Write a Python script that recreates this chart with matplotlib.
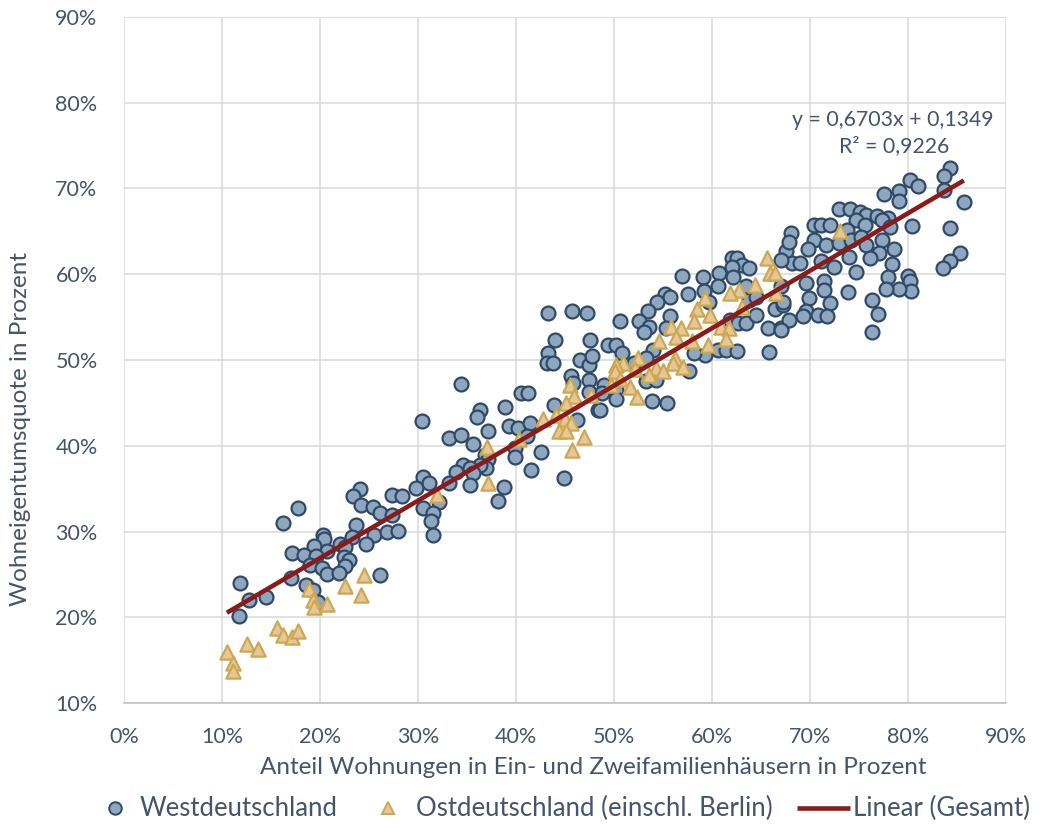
import matplotlib
matplotlib.use("Agg")
import matplotlib.pyplot as plt
from matplotlib.lines import Line2D
from matplotlib.ticker import FuncFormatter, MultipleLocator
import numpy as np

# ---- data (percent) ----
west_x = [24.1, 23.4, 27.3, 28.4, 24.2, 25.4, 17.8, 26.1, 27.3, 16.2, 23.7, 20.3, 20.4, 23.3, 25.5, 26.8, 28.0,
          19.4, 22.0, 24.7, 17.1, 18.4, 22.5, 20.7, 19.6, 22.4, 23.0, 19.0, 20.2, 22.5, 20.7, 21.9, 26.1, 17.0,
          11.8, 18.6, 19.3, 12.8, 14.5, 19.8, 11.7,
          44.0, 47.5, 43.3, 43.2, 43.8, 46.5, 47.4, 47.8, 45.6, 47.4, 45.8, 47.4, 34.4, 40.5, 41.2, 38.9, 36.3,
          36.0, 43.9, 48.4, 46.2, 30.4, 39.3, 40.2, 41.4, 37.1, 41.1, 33.2, 34.4, 35.6, 39.9, 42.5, 39.9, 36.8,
          37.1, 36.9, 36.3, 34.6, 33.9, 35.3, 35.6, 41.5, 44.9, 33.2, 30.5, 31.1, 29.8, 35.3, 38.8, 30.5, 32.1,
          31.5, 38.2, 31.3, 31.5, 43.3, 45.7,
          67.6, 68.2, 62.0, 62.6, 63.1, 63.8, 62.0, 60.7, 62.1, 59.1, 56.9, 60.6, 59.2, 57.5, 55.2, 55.7, 54.4,
          59.7, 63.5, 63.8, 64.5, 66.4, 67.2, 67.0, 47.2, 53.5, 52.6, 53.6, 53.1, 50.6, 55.7, 55.3, 61.8, 62.7,
          63.5, 64.5, 65.7, 67.0, 67.9, 49.4, 50.2, 50.8, 60.6, 61.4, 62.6, 65.8, 59.3, 58.2, 54.0, 53.3, 52.0,
          57.7, 49.0, 53.3, 54.3, 50.2, 48.8, 50.2, 53.9, 55.4, 48.6,
          84.3, 83.7, 80.2, 81.0, 83.7, 85.7, 77.6, 79.1, 79.1, 73.0, 74.1, 75.1, 75.7, 76.8, 78.0, 77.3, 74.7,
          70.4, 71.1, 72.0, 73.8, 75.6, 78.2, 80.4, 84.3, 68.1, 67.9, 70.4, 69.8, 71.6, 73.0, 74.2, 75.2, 75.7,
          77.3, 77.0, 78.6, 76.1, 74.0, 71.1, 72.4, 69.0, 67.0, 78.4, 74.7, 85.3, 84.3, 83.6, 78.0, 80.0, 80.2,
          80.3, 79.1, 77.8, 69.6, 71.4, 71.4, 69.9, 67.2, 72.0, 73.9, 76.3, 76.9, 69.6, 69.3, 70.8, 71.7, 67.0,
          76.3]
west_y = [34.9, 34.1, 34.3, 34.1, 33.1, 32.9, 32.7, 32.1, 31.9, 31.0, 30.7, 29.6, 29.1, 29.4, 29.6, 30.0, 30.1,
          28.3, 28.6, 28.6, 27.5, 27.3, 28.2, 27.7, 27.2, 27.0, 26.7, 26.1, 25.7, 26.0, 25.0, 25.2, 24.9, 24.6,
          24.0, 23.8, 23.2, 22.0, 22.4, 21.8, 20.2,
          52.3, 52.3, 50.8, 49.6, 49.6, 50.0, 49.4, 50.5, 48.1, 47.7, 47.3, 46.3, 47.2, 46.1, 46.1, 44.5, 44.2,
          43.3, 44.7, 44.2, 43.0, 42.9, 42.3, 42.1, 42.6, 41.7, 41.1, 40.9, 41.2, 40.2, 39.7, 39.3, 38.7, 38.9,
          38.4, 37.4, 37.8, 37.7, 36.9, 37.4, 36.8, 37.2, 36.2, 35.6, 36.3, 35.7, 35.1, 35.4, 35.2, 32.7, 33.4,
          32.1, 33.5, 31.2, 29.6, 55.5, 55.7,
          62.7, 61.3, 61.9, 61.9, 61.1, 60.7, 60.9, 60.1, 59.7, 59.7, 59.8, 58.6, 58.0, 57.7, 57.7, 57.4, 56.8,
          56.8, 58.6, 57.0, 57.4, 55.9, 56.4, 58.6, 55.5, 55.7, 54.5, 53.8, 53.3, 54.5, 55.1, 53.7, 54.7, 54.3,
          54.3, 55.2, 53.7, 53.7, 54.7, 51.8, 51.8, 50.8, 51.2, 51.2, 51.0, 50.9, 50.6, 50.8, 51.2, 50.2, 49.6,
          48.7, 47.1, 47.5, 47.7, 46.5, 46.1, 45.4, 45.2, 45.0, 44.2,
          72.4, 71.5, 71.0, 70.3, 69.8, 68.4, 69.4, 69.7, 68.5, 67.6, 67.6, 67.3, 66.9, 66.8, 66.6, 66.3, 66.3,
          65.7, 65.7, 65.8, 65.2, 65.8, 65.5, 65.6, 65.4, 64.8, 63.8, 64.0, 62.9, 63.4, 63.6, 64.0, 64.3, 63.4,
          64.0, 62.5, 62.9, 61.9, 62.0, 61.5, 60.9, 61.3, 61.7, 61.2, 60.3, 62.5, 61.5, 60.7, 59.7, 59.8, 59.2,
          58.0, 58.3, 58.3, 59.0, 59.2, 58.2, 57.2, 56.8, 56.6, 57.9, 57.0, 55.4, 55.7, 55.1, 55.3, 55.1, 53.5,
          53.3]

east_x = [24.5, 22.6, 18.9, 24.2, 19.3, 20.7, 19.4, 15.6, 16.2, 17.1, 17.8, 12.5, 13.7, 10.5, 11.1, 11.1,
          45.5, 45.9, 47.7, 45.1, 44.1, 42.8, 45.0, 45.6, 44.4, 45.1, 46.9, 45.7, 40.3, 37.0, 37.1, 31.9,
          65.6, 65.9, 66.4, 64.4, 62.8, 61.8, 63.1, 66.5, 59.3, 58.5, 59.8, 58.2, 60.9, 61.7, 55.8, 56.8, 56.3,
          54.6, 58.0, 59.6, 61.4, 56.2, 56.0, 52.4, 50.9, 50.2, 50.1, 57.0, 54.3, 55.0, 53.6, 52.1, 50.6, 51.6,
          52.3, 49.7, 73.1]
east_y = [24.9, 23.7, 23.3, 22.6, 22.0, 21.6, 21.2, 18.7, 17.9, 17.7, 18.4, 16.9, 16.3, 16.0, 14.7, 13.7,
          47.1, 45.8, 45.9, 45.0, 43.6, 43.1, 43.1, 42.6, 41.7, 41.7, 41.0, 39.5, 40.8, 39.8, 35.6, 34.3,
          61.9, 60.1, 60.1, 58.8, 58.2, 57.8, 56.2, 57.8, 57.2, 55.9, 55.3, 54.5, 53.9, 53.7, 53.9, 53.7, 52.7,
          52.2, 52.2, 51.7, 52.4, 50.2, 49.6, 50.2, 49.7, 49.4, 48.7, 49.2, 49.1, 48.7, 48.3, 48.9, 47.8, 46.9,
          45.7, 47.1, 65.1]

trend_slope = 0.6703
trend_intercept = 0.1349
r_squared = 0.9226

x_label = "Anteil Wohnungen in Ein- und Zweifamilienhäusern in Prozent"
y_label = "Wohneigentumsquote in Prozent"
legend_labels = ["Westdeutschland", "Ostdeutschland (einschl. Berlin)", "Linear (Gesamt)"]

# ---- style ----
FONT = ["Lato", "DejaVu Sans"]
plt.rcParams["font.family"] = FONT
TXT = "#44546A"
W_FILL, W_EDGE = "#8EA7BE", "#2E4A68"
E_FILL, E_EDGE = "#E6C898", "#CDA752"
LINE_C = "#8B1A1A"

W, H = 1040, 824
fig = plt.figure(figsize=(W / 100, H / 100), dpi=100)
ax = fig.add_axes([124 / W, 1 - 703 / H, 882 / W, 686 / H])

ax.scatter(west_x, west_y, s=100, marker="o", facecolor=W_FILL, edgecolor=W_EDGE,
           linewidth=1.6, zorder=3)
ax.scatter(east_x, east_y, s=105, marker="^", facecolor=E_FILL, edgecolor=E_EDGE,
           linewidth=1.6, zorder=4)

all_x = np.array(west_x + east_x)
tx = np.array([all_x.min(), all_x.max()])
ty = (trend_slope * tx / 100 + trend_intercept) * 100
ax.plot(tx, ty, color=LINE_C, linewidth=3.3, solid_capstyle="butt", zorder=5)

eq1 = "y = " + f"{trend_slope:.4f}".replace(".", ",") + "x + " + f"{trend_intercept:.4f}".replace(".", ",")
eq2 = "R² = " + f"{r_squared:.4f}".replace(".", ",")
ax.text(78.4, 78.0, eq1, ha="center", va="center", fontsize=15.3, color=TXT, zorder=6)
ax.text(78.6, 74.9, eq2, ha="center", va="center", fontsize=15.3, color=TXT, zorder=6)

ax.set_xlim(0, 90)
ax.set_ylim(10, 90)
ax.xaxis.set_major_locator(MultipleLocator(10))
ax.yaxis.set_major_locator(MultipleLocator(10))
pct = FuncFormatter(lambda v, p: f"{v:.0f}%")
ax.xaxis.set_major_formatter(pct)
ax.yaxis.set_major_formatter(pct)
ax.grid(True, color="#D9D9D9", linewidth=1.1, zorder=0)
ax.set_axisbelow(True)
for side in ["top", "right", "left"]:
    ax.spines[side].set_visible(False)
ax.spines["bottom"].set_color("#BFBFBF")
ax.spines["bottom"].set_linewidth(1.1)
ax.tick_params(axis="both", length=0, labelsize=15.5, labelcolor=TXT)
ax.tick_params(axis="x", pad=17)
ax.tick_params(axis="y", pad=19)

ax.set_xlabel(x_label, fontsize=17.5, color=TXT)
ax.set_ylabel(y_label, fontsize=17.5, color=TXT)
ax.xaxis.set_label_coords(0.532, -0.078)
ax.yaxis.set_label_coords(-0.106, 0.40)

# ---- legend (manual, Excel-like spacing) ----
LY = 1 - 808 / H
fig.add_artist(Line2D([115 / W], [LY], transform=fig.transFigure, linestyle="none", marker="o",
                      markersize=9, markerfacecolor=W_FILL, markeredgecolor=W_EDGE, markeredgewidth=1.4))
fig.text(140 / W, LY, legend_labels[0], ha="left", va="center", fontsize=18.5, color=TXT)
fig.add_artist(Line2D([388 / W], [LY], transform=fig.transFigure, linestyle="none", marker="^",
                      markersize=9, markerfacecolor=E_FILL, markeredgecolor=E_EDGE, markeredgewidth=1.4))
fig.text(416 / W, LY, legend_labels[1], ha="left", va="center", fontsize=18.5, color=TXT)
fig.add_artist(Line2D([797 / W, 850 / W], [LY, LY], transform=fig.transFigure, color=LINE_C,
                      linewidth=3.3, solid_capstyle="butt"))
fig.text(853 / W, LY, legend_labels[2], ha="left", va="center", fontsize=18.5, color=TXT)

fig.savefig("out.png", dpi=100)
